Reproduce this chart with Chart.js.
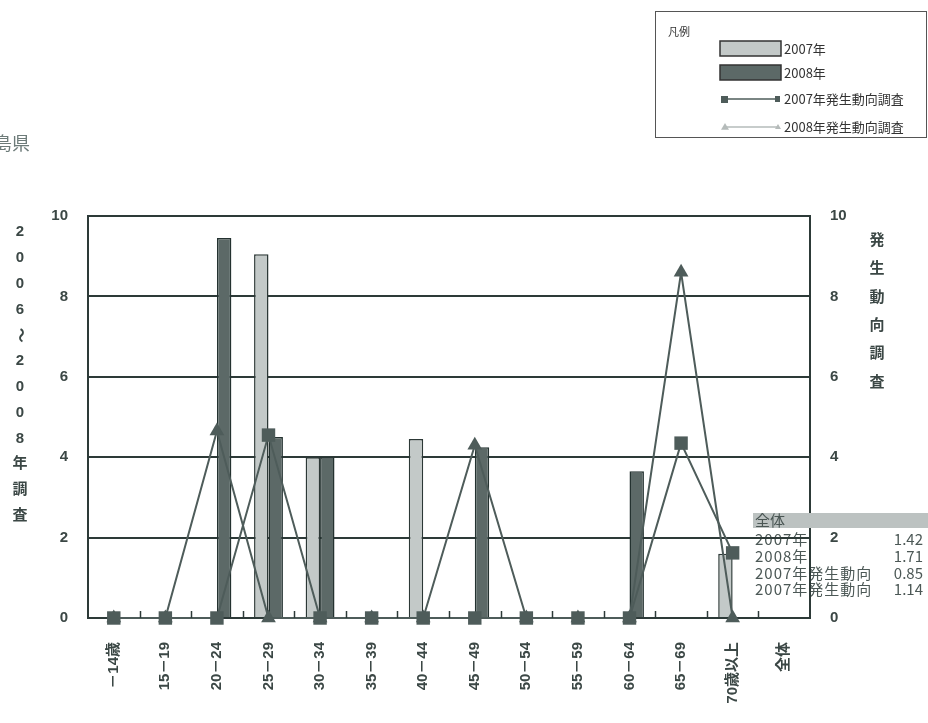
<!DOCTYPE html>
<html>
<head>
<meta charset="utf-8">
<script src="https://cdn.jsdelivr.net/npm/chart.js@4/dist/chart.umd.min.js"></script>
<style>
html,body{margin:0;padding:0;background:#fff;}
canvas{display:block;}
</style>
</head>
<body>
<canvas id="c" width="928" height="723"></canvas>
<script>
// ---- data ----
const categories = ['－14歳','15－19','20－24','25－29','30－34','35－39','40－44','45－49','50－54','55－59','60－64','65－69','70歳以上','全体'];
const bars2007 = [0, 0, 0, 9.05, 4.0, 0, 4.45, 0, 0, 0, 0, 0, 1.6, null];
const bars2008 = [0, 0, 9.45, 4.5, 4.0, 0, 0, 4.25, 0, 0, 3.65, 0, 0, null];
const survey2007 = [0, 0, 0, 4.55, 0, 0, 0, 0, 0, 0, 0, 4.35, 1.62, null];
const survey2008 = [0, 0, 4.65, 0, 0, 0, 0, 4.3, 0, 0, 0, 8.6, 0, null];
const yTicks = [0, 2, 4, 6, 8, 10];
const seriesNames = ['2007年', '2008年', '2007年発生動向調査', '2008年発生動向調査'];
const leftTitle = ['2','0','0','6','～','2','0','0','8','年','調','査'];
const rightTitle = ['発','生','動','向','調','査'];
const tableHeader = '全体';
const tableLabels = ['2007年', '2008年', '2007年発生動向', '2007年発生動向'];
const tableValues = ['1.42', '1.71', '0.85', '1.14'];
const regionText = '島県';

const INK = '#2d3a38';
const TXT = '#3b4745';
const LIGHT = '#c3c9c8';
const DARK = '#5c6967';
const LINE = '#4e5c5a';
const FONT = "'Liberation Sans', 'Noto Sans CJK JP', sans-serif";
const JFONT = "'Noto Sans CJK JP', sans-serif";

const decor = {
  id: 'decor',
  beforeDraw(chart) {
    const ctx = chart.ctx;
    ctx.save();
    ctx.fillStyle = '#fff';
    ctx.fillRect(0, 0, chart.width, chart.height);
    // table rows (under grid)
    ctx.font = '15px ' + JFONT;
    ctx.fillStyle = '#4c5856';
    ctx.textBaseline = 'middle';
    const rowsY = [539, 556, 573, 589];
    tableLabels.forEach((t, i) => {
      ctx.letterSpacing = '1px';
      ctx.textAlign = 'left';
      ctx.fillText(t, 755, rowsY[i]);
      ctx.letterSpacing = '0px';
      ctx.textAlign = 'right';
      ctx.fillText(tableValues[i], 923, rowsY[i]);
    });
    ctx.restore();
  },
  afterDraw(chart) {
    const ctx = chart.ctx;
    const area = chart.chartArea;
    const xs = chart.scales.x;
    ctx.save();
    // small category boundary ticks
    ctx.strokeStyle = INK;
    ctx.lineWidth = 1.5;
    const half = (xs.getPixelForTick(1) - xs.getPixelForTick(0)) / 2;
    for (let i = 1; i < categories.length; i++) {
      const x = Math.round(xs.getPixelForTick(i) - half) + 0.5;
      ctx.beginPath();
      ctx.moveTo(x, area.bottom);
      ctx.lineTo(x, area.bottom - 7);
      ctx.stroke();
    }
    // table header (over axis)
    ctx.fillStyle = '#bcc2c1';
    ctx.fillRect(753, 513, 175, 15);
    ctx.fillStyle = '#4a5654';
    ctx.font = '15px ' + JFONT;
    ctx.textAlign = 'left';
    ctx.textBaseline = 'middle';
    ctx.fillText(tableHeader, 755, 520);

    // left title (stacked)
    ctx.fillStyle = TXT;
    ctx.font = 'bold 15px ' + FONT;
    ctx.textAlign = 'center';
    leftTitle.forEach((ch, i) => {
      const y = 232 + i * 25.8;
      if (ch === '～') {
        ctx.save();
        ctx.translate(20, y);
        ctx.rotate(Math.PI / 2);
        ctx.fillText(ch, 0, 0);
        ctx.restore();
      } else {
        ctx.fillText(ch, 20, y);
      }
    });
    // right title
    rightTitle.forEach((ch, i) => {
      ctx.fillText(ch, 877, 241 + i * 28.3);
    });

    // region text (cropped)
    ctx.fillStyle = '#6d7b79';
    ctx.font = '18px ' + JFONT;
    ctx.textAlign = 'left';
    ctx.fillText(regionText, -6, 143);

    // legend box
    ctx.strokeStyle = '#555';
    ctx.lineWidth = 1;
    ctx.strokeRect(655.5, 11.5, 271, 126);
    ctx.fillStyle = '#333';
    ctx.font = '11px ' + JFONT;
    ctx.fillText('凡例', 668, 32);
    const ds = chart.data.datasets;
    // bar swatches
    [[0, 41], [1, 65]].forEach(([k, y]) => {
      ctx.fillStyle = ds[k].backgroundColor;
      ctx.fillRect(720, y, 61, 15);
      ctx.strokeStyle = '#333';
      ctx.lineWidth = 1.5;
      ctx.strokeRect(720, y, 61, 15);
    });
    // line swatches
    ctx.strokeStyle = LINE;
    ctx.lineWidth = 1.5;
    ctx.beginPath(); ctx.moveTo(724, 99); ctx.lineTo(777, 99); ctx.stroke();
    ctx.fillStyle = LINE;
    ctx.fillRect(721, 96, 7, 7);
    ctx.fillRect(775, 96, 5, 6);
    ctx.strokeStyle = '#b5bbba';
    ctx.beginPath(); ctx.moveTo(724, 127); ctx.lineTo(777, 127); ctx.stroke();
    ctx.fillStyle = '#b5bbba';
    [[725, 4], [778, 3]].forEach(([x, r]) => {
      ctx.beginPath();
      ctx.moveTo(x, 127 - r); ctx.lineTo(x + r, 127 + r * 0.7); ctx.lineTo(x - r, 127 + r * 0.7);
      ctx.closePath(); ctx.fill();
    });
    ctx.fillStyle = '#333';
    ctx.font = '13px ' + JFONT;
    ctx.textBaseline = 'middle';
    const ly = [49, 73, 99, 127];
    seriesNames.forEach((t, i) => ctx.fillText(t, 784, ly[i]));
    ctx.restore();
  }
};

new Chart(document.getElementById('c'), {
  type: 'bar',
  data: {
    labels: categories,
    datasets: [
      { type: 'bar', label: seriesNames[0], data: bars2007, yAxisID: 'y', order: 2,
        backgroundColor: LIGHT, borderColor: '#2c3836', borderWidth: 1.5,
        categoryPercentage: 0.56, barPercentage: 1.0 },
      { type: 'bar', label: seriesNames[1], data: bars2008, yAxisID: 'y', order: 3,
        backgroundColor: DARK, borderColor: '#243230', borderWidth: 1.5,
        categoryPercentage: 0.56, barPercentage: 1.0 },
      { type: 'line', label: seriesNames[2], data: survey2007, yAxisID: 'y1', order: 0,
        borderColor: LINE, backgroundColor: LINE, borderWidth: 2, clip: false,
        pointStyle: 'rect', pointRadius: 9.5, pointBorderWidth: 0, tension: 0, spanGaps: false },
      { type: 'line', label: seriesNames[3], data: survey2008, yAxisID: 'y1', order: 1,
        borderColor: LINE, backgroundColor: LINE, borderWidth: 2, clip: false,
        pointStyle: 'triangle', pointRadius: 8.5, pointBorderWidth: 0, tension: 0, spanGaps: false }
    ]
  },
  options: {
    responsive: false,
    devicePixelRatio: 1,
    animation: false,
    layout: { padding: { top: 216, left: 0, right: 0, bottom: 0 } },
    plugins: { legend: { display: false }, tooltip: { enabled: false } },
    scales: {
      x: {
        offset: true,
        grid: { display: false },
        border: { display: true, color: INK, width: 2 },
        ticks: { autoSkip: false, maxRotation: 90, minRotation: 90, padding: 16,
          color: TXT, font: { family: FONT, size: 15, weight: 'bold' } },
        afterFit(s) { s.height = 105; }
      },
      y: {
        position: 'left', min: 0, max: 10,
        afterBuildTicks(s) { s.ticks = yTicks.map(v => ({ value: v })); },
        grid: { color: INK, lineWidth: 2, drawTicks: false },
        border: { display: true, color: INK, width: 2 },
        ticks: { padding: 20, color: TXT, font: { family: FONT, size: 15, weight: 'bold' } },
        afterFit(s) { s.width = 88; }
      },
      y1: {
        position: 'right', min: 0, max: 10,
        afterBuildTicks(s) { s.ticks = yTicks.map(v => ({ value: v })); },
        grid: { display: false, drawTicks: false },
        border: { display: true, color: INK, width: 2 },
        ticks: { padding: 20, color: TXT, font: { family: FONT, size: 15, weight: 'bold' } },
        afterFit(s) { s.width = 118; }
      }
    }
  },
  plugins: [decor]
});
</script>
</body>
</html>
